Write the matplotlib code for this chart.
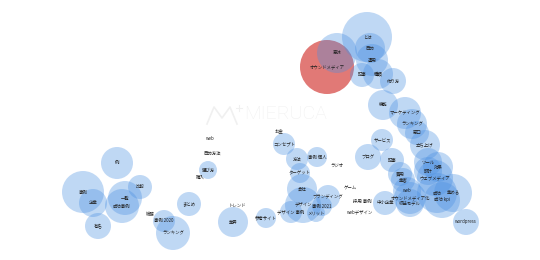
import matplotlib.pyplot as plt
from matplotlib.patches import Circle

plt.rcParams['font.family'] = ['Noto Sans CJK JP', 'DejaVu Sans']

# bubble keywords, centre (px), radius (px); radius 0 = label only
labels = ["オウンドメディア", "意味", "とは", "目的", "運用", "記事", "種類", "作り方",
          "機能", "マーケティング", "ランキング", "窓口", "立ち上げ", "サービス", "ブログ", "記事",
          "ツール", "効果", "費用", "集客", "設計", "ウェブメディア", "web", "オウンドメディア化",
          "収益モデル", "成功", "集める", "成功 kpi", "wordpress", "中小企業", "採用 事例", "webデザイン",
          "お金", "コンセプト", "方法", "事例 個人", "ラジオ", "ターゲット", "会社", "ゲーム",
          "ブランディング", "デザイン", "事例 2021", "デザイン 事例", "メリット", "参考サイト",
          "web", "目的方法", "選び方", "購入", "まとめ", "トレンド", "業界", "総務", "事例 2020", "ランキング",
          "例", "事例", "比較", "企業", "一覧", "成功事例", "有名"]
xs = [327, 337, 367, 370, 372, 362, 378, 393,
      383, 405, 412, 417, 425, 382, 368, 392,
      428, 438, 400, 403, 428, 435, 407, 410,
      410, 437, 453, 442, 466, 385, 362, 360,
      279, 284, 297, 317, 337, 300, 302, 350,
      328, 303, 322, 291, 316, 266,
      210, 212, 208, 200, 189, 237, 233, 150, 164, 173,
      117, 83, 140, 93, 125, 122, 98]
ys = [67, 53, 37, 48, 60, 75, 74, 81,
      105, 113, 124, 133, 145, 140, 157, 160,
      162, 167, 174, 180, 171, 178, 191, 198,
      203, 193, 193, 200, 222, 203, 201, 212,
      131, 144, 159, 157, 165, 173, 189, 188,
      197, 205, 206, 212, 213, 218,
      138, 153, 170, 177, 204, 205, 222, 214, 221, 233,
      163, 192, 187, 203, 198, 206, 226]
rs = [27, 20, 25, 15, 16, 12, 15, 13,
      15, 16, 15, 12, 15, 11, 13, 12,
      14, 15, 12, 12, 14, 18, 14, 16,
      14, 20, 19, 18, 13, 12, 0, 0,
      0, 11, 11, 10, 0, 10, 15, 0,
      12, 18, 10, 11, 9, 10,
      0, 0, 9, 0, 12, 0, 15, 0, 11, 17,
      16, 21, 12, 14, 17, 17, 13]

fig = plt.figure(figsize=(5.4, 2.6), dpi=100)
ax = fig.add_axes([0, 0, 1, 1])
ax.set_xlim(0, 540)
ax.set_ylim(260, 0)
ax.axis('off')

# watermark (logo + name), very faint
wm = '#f0f0f0'
ax.text(285, 114, "MIERUCA", fontsize=14, color=wm, ha='center', va='center',
        family='Roboto', fontweight='light', zorder=0)
ax.plot([207, 214, 222, 230, 237], [124, 107, 118, 107, 124], color=wm, lw=1.2, zorder=0)
ax.plot([239, 239], [105, 111], color=wm, lw=0.8, zorder=0)
ax.plot([236, 242], [108, 108], color=wm, lw=0.8, zorder=0)

# red one first, blues on top
ax.add_patch(Circle((xs[0], ys[0]), rs[0], color='#d9534f', alpha=0.78, lw=0, zorder=1))
for x, y, r in zip(xs[1:], ys[1:], rs[1:]):
    if r > 0:
        ax.add_patch(Circle((x, y), r, color='#4a90e2', alpha=0.35, lw=0, zorder=2))

for lab, x, y in zip(labels, xs, ys):
    ax.text(x, y, lab, fontsize=3.2, ha='center', va='center', color='#222222', zorder=3)

fig.savefig('out.png', dpi=100)
